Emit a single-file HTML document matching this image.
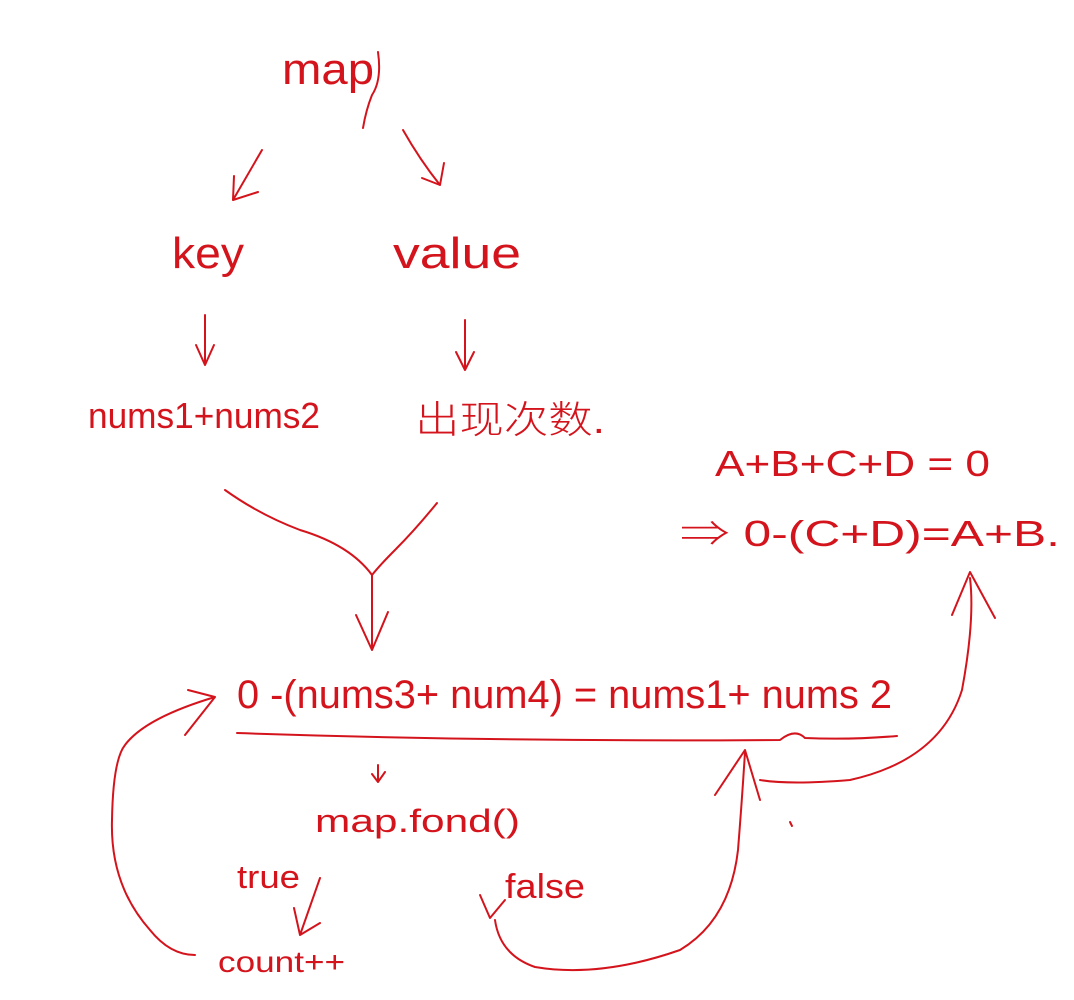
<!DOCTYPE html>
<html><head><meta charset="utf-8"><style>
html,body{margin:0;padding:0;background:#fff;}
svg{display:block}
text{font-family:"Liberation Sans","Noto Sans CJK SC",sans-serif;fill:#d4141c;font-weight:300}
path{stroke:#d4141c;stroke-width:2;fill:none;stroke-linecap:round;stroke-linejoin:round}
</style></head><body>
<svg width="1074" height="1000" viewBox="0 0 1074 1000" xmlns="http://www.w3.org/2000/svg">
<text x="282" y="84" font-size="44" textLength="92" lengthAdjust="spacingAndGlyphs">map</text>
<path d="M378 52 Q382 80 372 95 Q366 110 363 128"/>
<path d="M262 150 L233 200 M234 176 L233 200 L258 192"/>
<path d="M403 130 Q420 160 440 185 M422 178 L440 185 L444 163"/>
<text x="172" y="268" font-size="44" textLength="72" lengthAdjust="spacingAndGlyphs">key</text>
<text x="393" y="268" font-size="44" textLength="128" lengthAdjust="spacingAndGlyphs">value</text>
<path d="M205 315 L205 365 M196 345 L205 365 L214 345"/>
<path d="M465 320 L465 370 M456 352 L465 370 L474 352"/>
<text x="88" y="428" font-size="36" textLength="232" lengthAdjust="spacingAndGlyphs">nums1+nums2</text>
<text x="415" y="433" font-size="38" textLength="190" lengthAdjust="spacingAndGlyphs">出现次数.</text>
<path d="M225 490 Q260 515 300 530 Q350 545 372 575"/>
<path d="M437 503 Q415 530 395 550 Q380 565 372 575"/>
<path d="M372 575 L372 650 M356 615 L372 650 L388 612"/>
<text x="715" y="476" font-size="36" textLength="275" lengthAdjust="spacingAndGlyphs">A+B+C+D = 0</text>
<text x="680" y="546" font-size="36" textLength="380" lengthAdjust="spacingAndGlyphs">⇒ 0-(C+D)=A+B.</text>
<text x="237" y="708" font-size="40" textLength="655" lengthAdjust="spacingAndGlyphs">0 -(nums3+ num4) = nums1+ nums 2</text>
<path d="M237 733 Q500 742 780 740 Q795 728 805 738 Q850 740 897 736"/>
<path d="M195 955 Q170 955 150 930 Q110 885 112 820 Q113 760 125 745 Q145 718 215 697 M188 690 L215 697 L185 735"/>
<path d="M378 765 L378 782 M372 774 L378 782 L385 772"/>
<text x="315" y="832" font-size="32" textLength="205" lengthAdjust="spacingAndGlyphs">map.fond()</text>
<text x="237" y="888" font-size="32" textLength="63" lengthAdjust="spacingAndGlyphs">true</text>
<path d="M320 878 L300 935 M294 908 L300 935 L320 923"/>
<text x="218" y="972" font-size="30" textLength="127" lengthAdjust="spacingAndGlyphs">count++</text>
<text x="505" y="898" font-size="34" textLength="80" lengthAdjust="spacingAndGlyphs">false</text>
<path d="M480 895 L490 918 L505 900"/>
<path d="M495 920 Q500 955 535 967 Q600 978 680 950 Q730 920 738 850 Q742 800 745 752 M715 795 L745 750 L760 800"/>
<path d="M760 780 Q790 785 850 780 Q940 760 962 690 Q975 620 970 578 M952 615 L970 572 L995 618"/>
<path d="M790 822 L792 826"/>
</svg>
</body></html>
